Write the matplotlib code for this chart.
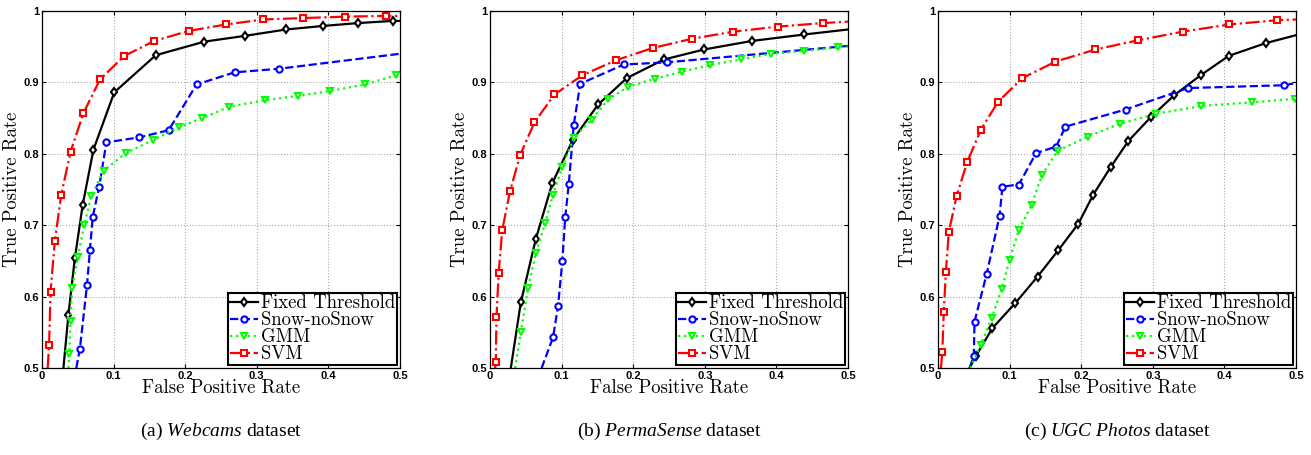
import matplotlib
matplotlib.use("Agg")
import matplotlib.pyplot as plt

plt.rcParams["mathtext.fontset"] = "custom"
plt.rcParams["mathtext.it"] = "Liberation Serif:italic"
plt.rcParams["mathtext.rm"] = "Liberation Serif"

# ROC data (FPR, TPR)
# (a) Webcams
a_fixed_x = [0.030, 0.037, 0.046, 0.057, 0.072, 0.101, 0.159, 0.227, 0.283, 0.341, 0.393, 0.442, 0.490, 0.500]
a_fixed_y = [0.500, 0.575, 0.654, 0.729, 0.806, 0.886, 0.938, 0.957, 0.965, 0.974, 0.979, 0.983, 0.986, 0.986]
a_snow_x = [0.048, 0.053, 0.063, 0.067, 0.071, 0.080, 0.090, 0.136, 0.177, 0.216, 0.269, 0.331, 0.500]
a_snow_y = [0.500, 0.527, 0.617, 0.665, 0.712, 0.754, 0.816, 0.823, 0.833, 0.897, 0.914, 0.919, 0.940]
a_gmm_x = [0.037, 0.038, 0.040, 0.042, 0.050, 0.059, 0.069, 0.086, 0.117, 0.155, 0.191, 0.224, 0.262, 0.311, 0.358, 0.403, 0.451, 0.495, 0.500]
a_gmm_y = [0.500, 0.520, 0.566, 0.612, 0.655, 0.700, 0.741, 0.776, 0.801, 0.819, 0.837, 0.850, 0.866, 0.875, 0.881, 0.888, 0.897, 0.910, 0.916]
a_svm_x = [0.008, 0.010, 0.012, 0.018, 0.027, 0.040, 0.058, 0.081, 0.115, 0.157, 0.205, 0.257, 0.309, 0.365, 0.424, 0.480, 0.500]
a_svm_y = [0.500, 0.533, 0.607, 0.678, 0.743, 0.803, 0.857, 0.904, 0.937, 0.958, 0.972, 0.981, 0.988, 0.990, 0.992, 0.993, 0.993]

# (b) PermaSense
b_fixed_x = [0.029, 0.043, 0.064, 0.087, 0.116, 0.151, 0.191, 0.243, 0.299, 0.366, 0.439, 0.500]
b_fixed_y = [0.500, 0.592, 0.681, 0.759, 0.820, 0.869, 0.906, 0.932, 0.946, 0.958, 0.967, 0.974]
b_snow_x = [0.072, 0.088, 0.095, 0.101, 0.105, 0.110, 0.117, 0.126, 0.187, 0.247, 0.500]
b_snow_y = [0.500, 0.543, 0.587, 0.650, 0.711, 0.758, 0.841, 0.898, 0.925, 0.928, 0.951]
b_gmm_x = [0.035, 0.043, 0.053, 0.064, 0.077, 0.088, 0.101, 0.117, 0.142, 0.165, 0.193, 0.230, 0.268, 0.307, 0.350, 0.392, 0.438, 0.486, 0.500]
b_gmm_y = [0.500, 0.550, 0.612, 0.661, 0.703, 0.743, 0.782, 0.822, 0.848, 0.876, 0.894, 0.905, 0.915, 0.924, 0.932, 0.940, 0.944, 0.949, 0.950]
b_svm_x = [0.007, 0.008, 0.009, 0.012, 0.017, 0.028, 0.042, 0.062, 0.090, 0.129, 0.176, 0.227, 0.282, 0.340, 0.402, 0.465, 0.500]
b_svm_y = [0.500, 0.509, 0.572, 0.633, 0.693, 0.748, 0.798, 0.844, 0.883, 0.910, 0.931, 0.948, 0.961, 0.971, 0.978, 0.983, 0.985]

# (c) UGC Photos
c_fixed_x = [0.044, 0.053, 0.076, 0.108, 0.139, 0.168, 0.196, 0.217, 0.241, 0.266, 0.297, 0.330, 0.367, 0.406, 0.458, 0.500]
c_fixed_y = [0.500, 0.517, 0.556, 0.591, 0.628, 0.665, 0.702, 0.743, 0.781, 0.818, 0.851, 0.882, 0.910, 0.937, 0.955, 0.966]
c_snow_x = [0.044, 0.050, 0.051, 0.068, 0.086, 0.090, 0.113, 0.137, 0.165, 0.178, 0.262, 0.349, 0.484, 0.500]
c_snow_y = [0.500, 0.517, 0.565, 0.632, 0.713, 0.754, 0.757, 0.801, 0.810, 0.838, 0.862, 0.892, 0.896, 0.899]
c_gmm_x = [0.045, 0.060, 0.075, 0.089, 0.100, 0.113, 0.131, 0.145, 0.167, 0.209, 0.254, 0.305, 0.368, 0.439, 0.499, 0.500]
c_gmm_y = [0.500, 0.533, 0.570, 0.611, 0.652, 0.693, 0.729, 0.770, 0.804, 0.824, 0.842, 0.856, 0.867, 0.872, 0.877, 0.877]
c_svm_x = [0.004, 0.006, 0.008, 0.011, 0.015, 0.026, 0.041, 0.060, 0.084, 0.118, 0.164, 0.220, 0.280, 0.342, 0.407, 0.474, 0.500]
c_svm_y = [0.500, 0.522, 0.579, 0.635, 0.690, 0.741, 0.789, 0.834, 0.873, 0.906, 0.929, 0.946, 0.959, 0.971, 0.981, 0.987, 0.988]

panels = [
    ("(a) ", "Webcams", [(a_fixed_x, a_fixed_y), (a_snow_x, a_snow_y), (a_gmm_x, a_gmm_y), (a_svm_x, a_svm_y)]),
    ("(b) ", "PermaSense", [(b_fixed_x, b_fixed_y), (b_snow_x, b_snow_y), (b_gmm_x, b_gmm_y), (b_svm_x, b_svm_y)]),
    ("(c) ", "UGC Photos", [(c_fixed_x, c_fixed_y), (c_snow_x, c_snow_y), (c_gmm_x, c_gmm_y), (c_svm_x, c_svm_y)]),
]
labels = ["Fixed Threshold", "Snow-noSnow", "GMM", "SVM"]
styles = [
    dict(color="black", linestyle="-", marker="d"),
    dict(color="#0000ff", linestyle="--", marker="o"),
    dict(color="#00ff00", linestyle=":", marker="v"),
    dict(color="#ff0000", linestyle="-.", marker="s"),
]

xticks = [0, 0.1, 0.2, 0.3, 0.4, 0.5]
xtick_labels = ["0", "0.1", "0.2", "0.3", "0.4", "0.5"]
yticks = [0.5, 0.6, 0.7, 0.8, 0.9, 1.0]
ytick_labels = ["0.5", "0.6", "0.7", "0.8", "0.9", "1"]

fig = plt.figure(figsize=(13.11, 4.55), dpi=100)
lefts = [0.032, 0.3738, 0.7155]

for left, (tag, name, series) in zip(lefts, panels):
    ax = fig.add_axes([left, 0.191, 0.273, 0.785])
    for (xs, ys), lab, st in zip(series, labels, styles):
        ax.plot(xs, ys, label=lab, linewidth=1.6, markersize=4.5,
                markerfacecolor="white", markeredgewidth=1.5,
                markevery=slice(1, -1), **st)
    ax.set_xlim(0, 0.5)
    ax.set_ylim(0.5, 1.0)
    ax.set_xticks(xticks)
    ax.set_xticklabels(xtick_labels, fontfamily="Liberation Sans", fontweight="bold", fontsize=8)
    ax.set_yticks(yticks)
    ax.set_yticklabels(ytick_labels, fontfamily="Liberation Sans", fontweight="bold", fontsize=8)
    ax.tick_params(direction="in", length=3, pad=2, top=True, right=True)
    ax.grid(True, linestyle=":", color="#aaaaaa", linewidth=0.8)
    for s in ax.spines.values():
        s.set_linewidth(0.9)
    ax.set_xlabel("False Positive Rate", fontfamily="cmr10", fontsize=13.5, labelpad=-1)
    ax.set_ylabel("True Positive Rate", fontfamily="cmr10", fontsize=13.5, labelpad=2)
    leg = ax.legend(loc="lower right", prop={"family": "cmr10", "size": 13.5},
                    handlelength=1.5, handletextpad=0.15, labelspacing=-0.05,
                    borderpad=0.1, borderaxespad=0.15, fancybox=False,
                    framealpha=1, edgecolor="black")
    leg.get_frame().set_linewidth(1.5)
    cx = left + 0.273 / 2
    fig.text(cx, 0.028, tag + r"$\it{" + name.replace(" ", r"\ ") + "}$" + " dataset",
             ha="center", va="bottom", fontfamily="Liberation Serif", fontsize=14)

fig.savefig("out.png", dpi=100)
